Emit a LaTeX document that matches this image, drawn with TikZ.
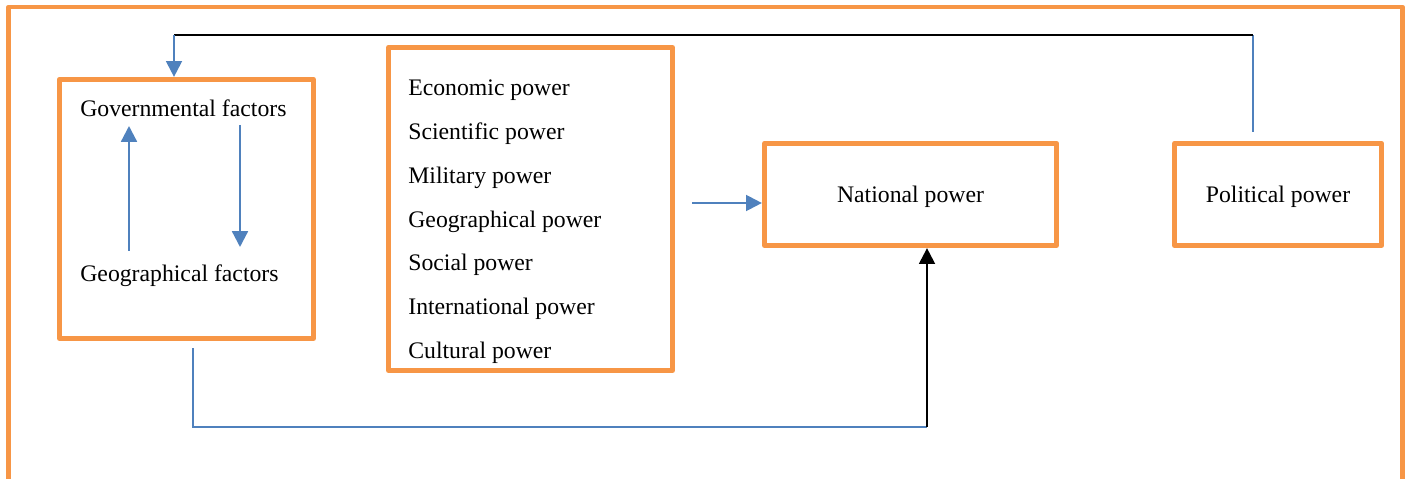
\documentclass[tikz,border=0pt]{standalone}
\usepackage{fontspec}
\setmainfont{Liberation Serif}
\usetikzlibrary{arrows.meta,calc}
\definecolor{boxorange}{HTML}{F79646}
\definecolor{linkblue}{HTML}{4F81BD}
\tikzset{
  box/.style={draw=boxorange, line width=3pt, line join=round, inner sep=0pt},
  txt/.style={inner sep=0pt, anchor=base west},
  link/.style={draw=linkblue, line width=1.3pt},
  flow/.style={link, -{Triangle[width=9pt,length=9pt]}},
}
\begin{document}
\begin{tikzpicture}[x=0.02cm, y=-0.02cm, font=\fontsize{13.5}{16}\selectfont]
\useasboundingbox (0,0) rectangle (1408,479);
% outer frame, open at the bottom
\draw[boxorange, line width=2.6pt, line join=round] (8.5,500) -- (8.5,7) -- (1402.5,7) -- (1402.5,500);

% factors
\node[box, minimum width=5.08cm, minimum height=5.18cm] (factors) at (186.5,209) {};
\node[txt] (gov) at (80,116.5) {Governmental factors};
\node[txt] (geo) at (80,281) {Geographical factors};
\draw[flow] ($(geo.base west)+(49,-30)$) -- ($(gov.base west)+(49,9.5)$);
\draw[flow] ($(gov.base west)+(160,8.5)$) -- ($(geo.base west)+(160,-34)$);

% list of powers
\node[box, minimum width=5.68cm, minimum height=6.46cm] (powers) at (530.5,209) {};
\foreach \name [count=\i from 0] in {Economic, Scientific, Military, Geographical, Social, International, Cultural}
  \node[txt] (p\i) at (408, 96+43.7*\i) {\name{} power};

\node[box, text height=12pt, text depth=2.4pt, minimum width=5.84cm, minimum height=2.04cm] (national) at (910.5,194.5) {National power};
\node[box, text height=12pt, text depth=2.4pt, minimum width=4.14cm, minimum height=2.04cm] (political) at (1278,194.5) {Political power};

\draw[flow] ($(powers.east)+(17,-6)$) coordinate (pa) -- (pa -| national.west);

% feedback at the top
\draw[link] ($(political.north)+(-25,-9)$) -- ++(0,-97) coordinate (tr);
\coordinate (tl) at ($(factors.north)+(-12.5,0)$);
\draw[black, line width=1pt] (tr) -- (tr -| tl);
\draw[flow] (tr -| tl) -- (factors.north -| tl);

% link at the bottom
\coordinate (br) at ($(national.south)+(16.5,179)$);
\draw[link] ($(factors.south)+(6.5,7)$) coordinate (bs) -- (bs |- br) -- (br);
\draw[flow, draw=black] (br) -- (br |- national.south);
\end{tikzpicture}
\end{document}
